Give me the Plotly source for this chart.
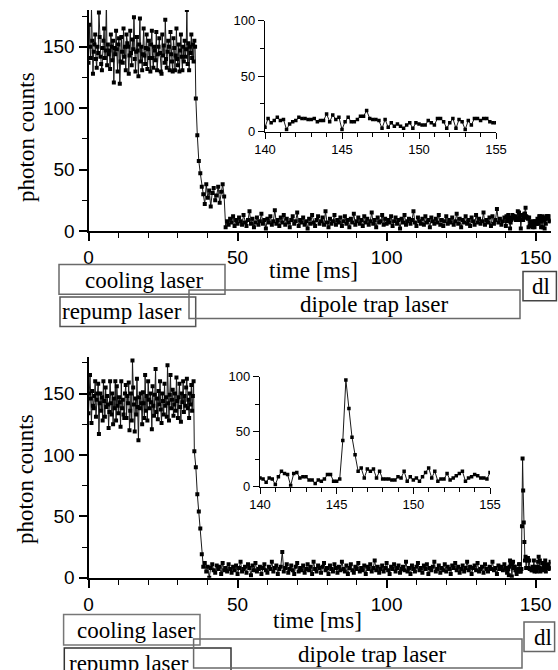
import numpy as np
import plotly.graph_objects as go

W, H = 558, 670

# ---------------- data ----------------
# Panel 1 (top)
p1_plateau = [137, 168, 150, 141, 182, 155, 128, 146, 152, 160, 140, 133,
              150, 145, 178, 158, 142, 136, 131, 149, 155, 165, 141, 147,
              190, 135, 152, 144, 147, 132, 160, 150, 139, 155, 121, 149,
              144, 163, 148, 130, 152, 157, 120, 138, 158, 146, 137, 165,
              142, 150, 131, 160, 153, 150, 128, 143, 163, 145, 135, 156,
              148, 174, 140, 130, 146, 158, 147, 126, 152, 173, 138, 150,
              131, 144, 165, 143, 136, 149, 160, 132, 148, 155, 141, 130,
              152, 163, 141, 133, 150, 147, 139, 162, 131, 144, 150, 157,
              145, 130, 128, 160, 143, 151, 137, 172, 140, 133, 146, 155,
              150, 131, 162, 144, 138, 130, 157, 149, 131, 143, 165, 140,
              135, 152, 130, 147, 160, 142, 131, 150, 138, 155, 142, 148,
              180, 136, 153, 131, 150, 145, 160, 141, 152, 138, 155, 150]  # t = 0 .. 35.75 (0.25 ms)
p1_drop = [108, 78, 57, 47, 36]              # t = 36.0 .. 38.0
p1_level = [30, 22, 38, 27, 33, 20, 31, 35, 25, 29, 36, 23, 32, 38, 28]  # t = 38.5 .. 45.5
p1_base = [3, 8, 5, 10, 7, 12, 4, 9, 6, 11,
           8, 5, 13, 7, 4, 9, 16, 6, 10, 3,
           7, 11, 5, 8, 14, 6, 9, 2, 10, 7,
           12, 5, 8, 17, 6, 9, 4, 11, 7, 13,
           5, 10, 7, 3, 9, 12, 6, 8, 15, 4,
           9, 7, 11, 5, 8, 2, 10, 6, 13, 7,
           4, 9, 12, 6, 8, 11, 5, 16, 7, 3,
           10, 6, 8, 13, 5, 9, 7, 11, 4, 8,
           12, 6, 9, 3, 10, 7, 14, 5, 8, 11,
           6, 9, 4, 12, 7, 10, 5, 8, 15, 6,
           9, 3, 11, 7, 8, 13, 5, 10, 6, 9,
           7, 12, 4, 8, 11, 6, 9, 2, 10, 7,
           13, 5, 8, 10, 6, 9, 16, 7, 4, 11,
           8, 6, 10, 5, 12, 7, 9, 3, 11, 8,
           6, 10, 7, 13, 5, 9, 4, 8, 12, 6,
           9, 7, 11, 5, 8, 14, 6, 10, 3, 9,
           7, 12, 6, 9, 4, 11, 8, 5, 13, 7,
           10, 6, 8, 15, 5, 9, 7, 11, 4, 12,
           6, 9, 18, 7, 10, 5, 8, 11]      # t = 46.0 .. 139.5 (0.5 ms)
p1_inset = [4, 12, 8, 10, 13, 10, 11, 2, 7, 9,
            10, 13, 12, 12, 11, 11, 12, 9, 10, 10,
            16, 9, 15, 11, 13, 2, 9, 13, 9, 9,
            11, 14, 14, 19, 12, 11, 11, 10, 3, 11,
            4, 8, 5, 7, 5, 3, 6, 8, 3, 8,
            7, 6, 6, 10, 8, 6, 12, 12, 9, 3,
            8, 12, 3, 11, 9, 2, 10, 6, 12, 12,
            10, 12, 12, 9, 8, 8]           # t = 140.0 .. 155.0 (0.2 ms)

# Panel 2 (bottom)
p2_plateau = [134, 150, 165, 146, 126, 152, 140, 138, 148, 160, 131, 145,
              150, 158, 117, 142, 150, 136, 147, 128, 160, 144, 131, 155,
              139, 148, 141, 122, 135, 160, 142, 133, 150, 125, 146, 138,
              160, 128, 156, 140, 134, 147, 143, 123, 160, 138, 145, 133,
              130, 150, 157, 130, 148, 142, 159, 120, 136, 150, 128, 177,
              155, 141, 119, 146, 133, 162, 139, 112, 147, 138, 150, 142,
              125, 151, 142, 130, 165, 136, 148, 128, 160, 145, 138, 150,
              143, 121, 156, 140, 132, 149, 170, 135, 146, 129, 152, 141,
              160, 137, 126, 150, 144, 133, 158, 140, 147, 131, 173, 142,
              128, 149, 165, 138, 145, 153, 132, 141, 150, 136, 163, 144,
              130, 147, 158, 139, 127, 150, 143, 160, 135, 148, 140, 155,
              162, 138, 145, 130, 150, 141, 157, 136, 148, 160]  # t = 0 .. 35.25 (0.25 ms)
p2_drop = [103, 90, 68, 54, 40, 19, 9]       # t = 35.5 .. 38.5
p2_base = [12, 5, 9, 0, 8, 11, 6, 4, 10, 7,
           9, 3, 12, 6, 8, 5, 11, 7, 4, 9,
           6, 10, 3, 8, 13, 5, 7, 9, 4, 11,
           8, 2, 10, 6, 12, 5, 7, 9, 3, 8,
           11, 6, 4, 9, 7, 13, 5, 8, 10, 3,
           7, 9, 21, 5, 8, 11, 4, 7, 10, 6,
           3, 9, 12, 5, 8, 6, 10, 4, 7, 11,
           6, 9, 3, 13, 7, 5, 10, 8, 4, 9,
           12, 6, 8, 3, 10, 7, 5, 11, 8, 4,
           9, 6, 13, 7, 5, 10, 3, 8, 11, 6,
           4, 9, 7, 12, 5, 8, 6, 10, 3, 9,
           7, 11, 5, 8, 14, 6, 9, 4, 7, 10,
           5, 8, 12, 6, 3, 9, 7, 11, 5, 8,
           10, 4, 7, 9, 6, 13, 5, 8, 3, 10,
           7, 5, 9, 12, 6, 8, 4, 10, 7, 11,
           3, 8, 6, 9, 13, 5, 7, 10, 4, 8,
           6, 11, 5, 9, 7, 3, 10, 8, 12, 6,
           9, 4, 7, 10, 5, 8, 13, 6, 9, 3,
           8, 10, 6, 12, 5, 7, 9, 4, 11, 7,
           5, 9, 7, 13, 6, 8, 3, 10, 7, 9,
           6, 11]                           # t = 39.0 .. 139.5 (0.5 ms)
p2_inset = [8, 7, 4, 8, 7, 2, 9, 14, 12, 11,
            1, 12, 13, 8, 9, 9, 6, 6, 3, 6,
            5, 7, 11, 11, 5, 5, 7, 42, 97, 71,
            45, 29, 14, 17, 8, 16, 14, 16, 8, 14,
            7, 7, 7, 6, 6, 9, 8, 14, 5, 9,
            6, 8, 5, 9, 13, 17, 8, 14, 5, 7,
            7, 12, 6, 8, 10, 12, 14, 5, 8, 9,
            11, 10, 8, 8, 7, 13]           # t = 140.0 .. 155.0 (0.2 ms)

main_ticks = [0, 50, 100, 150]
inset_xticks = [140, 145, 150, 155]
inset_yticks = [0, 50, 100]

box_labels = ["cooling laser", "repump laser", "dipole trap laser", "dl"]
x_title = "time [ms]"
y_title = "photon counts"

# ---------------- time grids ----------------
inset_t = 140 + 0.2 * np.arange(len(p1_inset))
t1 = np.concatenate([0.25 * np.arange(len(p1_plateau)),
                     36.0 + 0.5 * np.arange(len(p1_drop)),
                     38.5 + 0.5 * np.arange(len(p1_level)),
                     46.0 + 0.5 * np.arange(len(p1_base)),
                     inset_t])
y1 = np.array(p1_plateau + p1_drop + p1_level + p1_base + p1_inset, dtype=float)

inset_t2 = 140 + 0.2 * np.arange(len(p2_inset))
t2 = np.concatenate([0.25 * np.arange(len(p2_plateau)),
                     35.5 + 0.5 * np.arange(len(p2_drop)),
                     39.0 + 0.5 * np.arange(len(p2_base)),
                     inset_t2])
y2 = np.array(p2_plateau + p2_drop + p2_base + p2_inset, dtype=float)


def X(px):
    return px / W


def Y(py):
    return 1 - py / H


SANS = "Liberation Sans, Arial, sans-serif"
SERIF = "Liberation Serif, Times New Roman, serif"

fig = go.Figure()

main_style = dict(mode="lines+markers",
                  line=dict(color="#1a1a1a", width=1),
                  marker=dict(symbol="square", size=4, color="black"),
                  showlegend=False, hoverinfo="skip")
inset_style = dict(mode="lines+markers",
                   line=dict(color="#1a1a1a", width=1),
                   marker=dict(symbol="square", size=3.5, color="black"),
                   showlegend=False, hoverinfo="skip")

fig.add_trace(go.Scatter(x=t1, y=y1, xaxis="x", yaxis="y", **main_style))
fig.add_trace(go.Scatter(x=inset_t, y=p1_inset, xaxis="x2", yaxis="y2", **inset_style))
fig.add_trace(go.Scatter(x=t2, y=y2, xaxis="x3", yaxis="y3", **main_style))
fig.add_trace(go.Scatter(x=inset_t2, y=p2_inset, xaxis="x4", yaxis="y4", **inset_style))


def main_x(anchor):
    return dict(domain=[X(88.5), X(550.6)], range=[0, 155], anchor=anchor,
                automargin=False,
                showline=True, linewidth=2, linecolor="black",
                ticks="outside", ticklen=8, tickwidth=1.5, tickcolor="black",
                tickvals=main_ticks, showgrid=False, zeroline=False,
                minor=dict(dtick=10, tick0=0, ticks="outside", ticklen=5,
                           tickwidth=1.2, tickcolor="black", showgrid=False),
                tickfont=dict(family=SANS, size=19, color="black"),
                ticklabelstandoff=0)


def main_y(anchor, dom):
    return dict(domain=dom, range=[0, 180], anchor=anchor,
                automargin=False,
                showline=True, linewidth=2, linecolor="black",
                ticks="outside", ticklen=8, tickwidth=1.5, tickcolor="black",
                tickvals=main_ticks, showgrid=False, zeroline=False,
                minor=dict(dtick=25, tick0=0, ticks="outside", ticklen=5,
                           tickwidth=1.2, tickcolor="black", showgrid=False),
                tickfont=dict(family=SANS, size=19, color="black"))


def inset_x(anchor, dom):
    return dict(domain=dom, range=[140, 155], anchor=anchor,
                automargin=False,
                showline=True, linewidth=1.2, linecolor="black",
                ticks="outside", ticklen=6, tickwidth=1, tickcolor="black",
                tickvals=inset_xticks, showgrid=False, zeroline=False,
                minor=dict(dtick=1, tick0=140, ticks="outside", ticklen=4,
                           tickwidth=1, tickcolor="black", showgrid=False),
                tickfont=dict(family=SANS, size=13, color="black"))


def inset_y(anchor, dom):
    return dict(domain=dom, range=[0, 100], anchor=anchor,
                automargin=False,
                showline=True, linewidth=1.2, linecolor="black",
                ticks="outside", ticklen=6, tickwidth=1, tickcolor="black",
                tickvals=inset_yticks, showgrid=False, zeroline=False,
                minor=dict(dtick=25, tick0=0, ticks="outside", ticklen=4,
                           tickwidth=1, tickcolor="black", showgrid=False),
                tickfont=dict(family=SANS, size=13, color="black"))


fig.update_layout(
    width=W, height=H,
    margin=dict(l=0, r=0, t=0, b=0, pad=0, autoexpand=False),
    paper_bgcolor="white", plot_bgcolor="rgba(0,0,0,0)",
    xaxis=main_x("y"),
    yaxis=main_y("x", [Y(231), Y(10)]),
    xaxis2=inset_x("y2", [X(265), X(496)]),
    yaxis2=inset_y("x2", [Y(131.7), Y(20.7)]),
    xaxis3=main_x("y3"),
    yaxis3=main_y("x3", [Y(577.7), Y(356.7)]),
    xaxis4=inset_x("y4", [X(260), X(490)]),
    yaxis4=inset_y("x4", [Y(486.7), Y(376.7)]),
)

annotations = []
shapes = []


def text(s, cx, cy, size=23, angle=0):
    annotations.append(dict(text=s, x=X(cx), y=Y(cy), xref="paper", yref="paper",
                            xanchor="center", yanchor="middle", showarrow=False,
                            textangle=angle,
                            font=dict(family=SERIF, size=size, color="black")))


def box(x0, y0, x1, y1, color):
    shapes.append(dict(type="rect", xref="paper", yref="paper",
                       x0=X(x0), x1=X(x1), y0=Y(y1), y1=Y(y0),
                       line=dict(color=color, width=1.5), fillcolor="rgba(0,0,0,0)"))


# axis titles
text(y_title, 27, 137, angle=-90)
text(x_title, 313, 270)
text(y_title, 25, 479, angle=-90)
text(x_title, 317, 620)

# panel 1 laser boxes
box(59, 264.6, 225, 294.3, "#6a6a6a")
box(60, 297, 195.7, 326.4, "#555555")
box(189, 290, 520, 318.6, "#6a6a6a")
box(523, 271.4, 556.4, 300.7, "#444444")
text(box_labels[0], 144, 280)
text(box_labels[1], 122, 311.5)
text(box_labels[2], 374.6, 304)
text(box_labels[3], 541, 286)

# panel 2 laser boxes
box(63.6, 614.6, 200, 645, "#777777")
box(64.3, 647.9, 231, 680, "#333333")
box(193.6, 639, 522, 667.9, "#6a6a6a")
box(524, 622, 554.6, 651.4, "#666666")
text(box_labels[0], 135.7, 630)
text(box_labels[1], 128.6, 663)
text(box_labels[2], 372.3, 654.3)
text(box_labels[3], 543, 637)

fig.update_layout(annotations=annotations, shapes=shapes)

fig.write_html("out.html",
               config={"displayModeBar": False},
               post_script="document.body.style.margin='0px';"
                           "document.body.style.overflow='hidden';")
